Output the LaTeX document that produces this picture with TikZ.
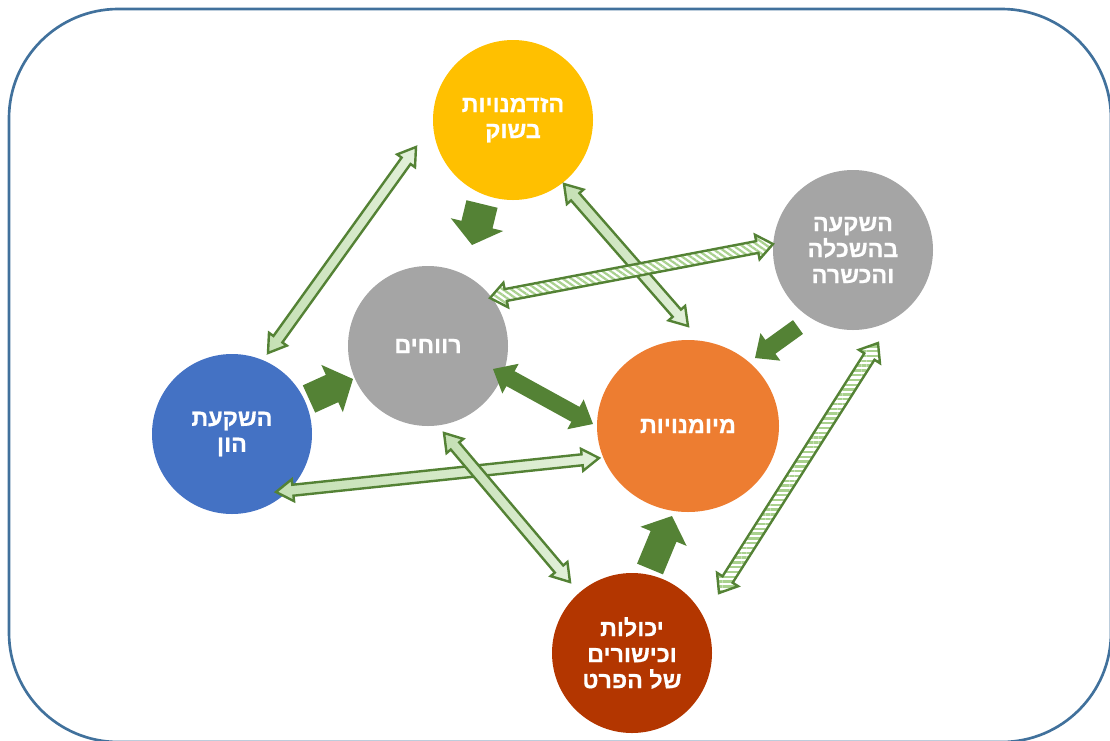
\documentclass[tikz,border=0pt]{standalone}
\usepackage{fontspec}
\newfontfamily\heb[Script=Hebrew, FakeBold=0.6]{Liberation Sans Bold}
\TeXXeTstate=1
\usetikzlibrary{calc,shapes.geometric,patterns.meta}
\definecolor{dgreen}{HTML}{548235}
\definecolor{lgreenA}{HTML}{C5E0B4}
\definecolor{lgreenB}{HTML}{E2F0D9}
\definecolor{stripe}{HTML}{A9D18E}
\definecolor{frame}{HTML}{41719C}
\definecolor{cyellow}{HTML}{FFC000}
\definecolor{cgray}{HTML}{A5A5A5}
\definecolor{cblue}{HTML}{4472C4}
\definecolor{corange}{HTML}{ED7D31}
\definecolor{cred}{HTML}{B33600}
\newcommand{\R}[1]{\beginR #1\endR}
% block arrow: #1 from, #2 to, #3 shaft half width, #4 head half width, #5 head length (px), #6 style, #7 single/double
\newcommand{\blockarrow}[7]{%
  \path let \p1=(#1), \p2=(#2) in
    \pgfextra{\pgfmathsetmacro\baA{atan2(\y2-\y1,\x2-\x1)}\xdef\baA{\baA}%
              \pgfmathsetmacro\baL{veclen(\x2-\x1,\y2-\y1)}\xdef\baL{\baL}};
  \pgfmathsetlengthmacro\bas{#3*0.75pt}%
  \pgfmathsetlengthmacro\baH{#4*0.75pt}%
  \pgfmathsetlengthmacro\bah{#5*0.75pt}%
  \pgfmathsetlengthmacro\bab{\baL pt-#5*0.75pt}%
  \ifx#7d
    \path[#6, shift={(#1)}, rotate=\baA] (0pt,0pt) -- (\bah,\baH) -- (\bah,\bas) -- (\bab,\bas) -- (\bab,\baH)
      -- (\baL pt,0pt) -- (\bab,-\baH) -- (\bab,-\bas) -- (\bah,-\bas) -- (\bah,-\baH) -- cycle;
  \else
    \path[#6, shift={(#1)}, rotate=\baA] (0pt,-\bas) -- (\bab,-\bas) -- (\bab,-\baH) -- (\baL pt,0pt)
      -- (\bab,\baH) -- (\bab,\bas) -- (0pt,\bas) -- cycle;
  \fi
}
\tikzset{
  bubble/.style={circle, minimum size=120pt, inner sep=0pt, text=white,
    font=\heb\fontsize{17.5}{19.5}\selectfont, align=center},
  thinarrow/.style={draw=dgreen, line width=1.8pt, line join=miter, left color=lgreenA, right color=lgreenB},
  stripearrowH/.style={draw=dgreen, line width=1.8pt, line join=miter, preaction={fill=white},
    pattern={Lines[angle=0,distance=3.6pt,line width=1.7pt]}, pattern color=stripe},
  stripearrowD/.style={draw=dgreen, line width=1.8pt, line join=miter, preaction={fill=white},
    pattern={Lines[angle=-35,distance=3.6pt,line width=1.7pt]}, pattern color=stripe},
  fatarrow/.style={fill=dgreen},
}
\begin{document}
\begin{tikzpicture}[x=0.75pt,y=-0.75pt]
\useasboundingbox (0,0) rectangle (1110,740);
\clip (0,0) rectangle (1110,740);
\draw[frame, line width=2pt, rounded corners=82pt] (9,9) rectangle (1111,742);

\node[bubble, fill=cyellow] (opp) at (513,120) {\R{הזדמנויות}\\\R{בשוק}};
\node[bubble, fill=cgray] (edu) at (853,250) {\R{השקעה}\\\R{בהשכלה}\\\R{והכשרה}};
\node[bubble, fill=cgray] (prof) at (428,346) {\R{רווחים}};
\node[bubble, fill=cblue] (cap) at (232,434) {\R{השקעת}\\\R{הון}};
\node[bubble, ellipse, minimum width=136.5pt, minimum height=129pt, fill=corange] (skill) at (688,426) {\R{מיומנויות}};
\node[bubble, fill=cred] (abil) at (632,653) {\R{יכולות}\\\R{וכישורים}\\\R{של הפרט}};

% arrow end points
\coordinate (a1) at (268,353); \coordinate (a2) at (416,147);
\coordinate (b1) at (564,184); \coordinate (b2) at (688,326);
\coordinate (c1) at (276,492); \coordinate (c2) at (599,458);
\coordinate (d1) at (444,433); \coordinate (d2) at (570,582);
\coordinate (e1) at (490,298); \coordinate (e2) at (773,244);
\coordinate (f1) at (719,593); \coordinate (f2) at (878,343);
\coordinate (g1) at (482,204); \coordinate (g2) at (472,245);
\coordinate (h1) at (798,327); \coordinate (h2) at (755,358);
\coordinate (i1) at (309,399); \coordinate (i2) at (353,379);
\coordinate (j1) at (493,369); \coordinate (j2) at (593,424);
\coordinate (k1) at (650,569); \coordinate (k2) at (672,516);

\blockarrow{a1}{a2}{5.5}{11}{17}{thinarrow}{d}
\blockarrow{b1}{b2}{5.5}{11}{17}{thinarrow}{d}
\blockarrow{c1}{c2}{5.5}{11}{17}{thinarrow}{d}
\blockarrow{d1}{d2}{5.5}{11}{17}{thinarrow}{d}
\blockarrow{e1}{e2}{6}{12.5}{16}{stripearrowD}{d}
\blockarrow{f1}{f2}{6}{12.5}{16}{stripearrowH}{d}

\blockarrow{g1}{g2}{16}{27}{21}{fatarrow}{s}
\blockarrow{h1}{h2}{8.5}{17}{19}{fatarrow}{s}
\blockarrow{i1}{i2}{15}{26}{23}{fatarrow}{s}
\blockarrow{j1}{j2}{8.5}{17}{20}{fatarrow}{d}
\blockarrow{k1}{k2}{14}{25}{22}{fatarrow}{s}
\end{tikzpicture}
\end{document}
